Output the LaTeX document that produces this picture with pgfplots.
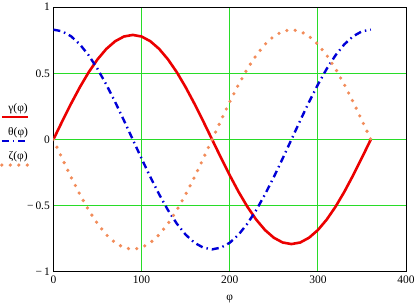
\documentclass[border=0pt]{standalone}
\usepackage{pgfplots}
\pgfplotsset{compat=1.18}
\usepackage{fontspec}
\setmainfont{Liberation Serif}
\definecolor{cred}{RGB}{235,0,0}
\definecolor{cblue}{RGB}{0,0,215}
\definecolor{corange}{RGB}{242,140,90}
\definecolor{cgrid}{RGB}{40,220,40}
\begin{document}
\begin{tikzpicture}
\begin{axis}[
  scale only axis,
  width=353pt, height=265pt,
  xmin=0, xmax=400, ymin=-1, ymax=1,
  xtick={0,100,200,300,400},
  ytick={-1,-0.5,0,0.5,1},
  yticklabels={−\,1,−\,0.5,0,0.5,1},
  /pgf/number format/assume math mode=true,
  tick label style={font=\fontsize{11.5}{13}\selectfont},
  major tick length=0pt,
  grid=major,
  major grid style={cgrid, line width=0.8pt},
  axis line style={black, line width=0.8pt},
  xlabel={φ},
  xlabel style={font=\fontsize{11.5}{13}\selectfont, yshift=-5pt},
  legend style={at={(axis description cs:-0.152,0.645)}, anchor=north west, draw=none, fill=none,
    font=\fontsize{11.5}{13}\selectfont, row sep=7pt, inner sep=0pt},
  legend cell align=left,
  legend image code/.code={\draw[#1] (0pt,-9pt) -- (26pt,-9pt);},
]
\addplot[cred, line width=2.6pt] coordinates {
(0,0)(10,0.137)(20,0.270)(30,0.395)(40,0.508)(50,0.605)(60,0.684)(70,0.742)(80,0.778)(90,0.790)(100,0.778)(110,0.742)(120,0.684)(130,0.605)(140,0.508)(150,0.395)(160,0.270)(170,0.137)(180,0)(190,-0.137)(200,-0.270)(210,-0.395)(220,-0.508)(230,-0.605)(240,-0.684)(250,-0.742)(260,-0.778)(270,-0.790)(280,-0.778)(290,-0.742)(300,-0.684)(310,-0.605)(320,-0.508)(330,-0.395)(340,-0.270)(350,-0.137)(360,0)
};
\addlegendentry{\hspace*{-24pt}γ(φ)}
\addplot[cblue, line width=2.4pt, dash pattern=on 7pt off 4pt on 1.5pt off 4pt] coordinates {
(0,0.830)(10,0.817)(20,0.780)(30,0.719)(40,0.636)(50,0.534)(60,0.415)(70,0.284)(80,0.144)(90,0)(100,-0.144)(110,-0.284)(120,-0.415)(130,-0.534)(140,-0.636)(150,-0.719)(160,-0.780)(170,-0.817)(180,-0.830)(190,-0.817)(200,-0.780)(210,-0.719)(220,-0.636)(230,-0.534)(240,-0.415)(250,-0.284)(260,-0.144)(270,0)(280,0.144)(290,0.284)(300,0.415)(310,0.534)(320,0.636)(330,0.719)(340,0.780)(350,0.817)(360,0.830)
};
\addlegendentry{\hspace*{-24pt}θ(φ)}
\addplot[corange, line width=3.6pt, line cap=round, dash pattern=on 0pt off 8.5pt] coordinates {
(0,0)(10,-0.144)(20,-0.284)(30,-0.415)(40,-0.534)(50,-0.636)(60,-0.719)(70,-0.780)(80,-0.817)(90,-0.830)(100,-0.817)(110,-0.780)(120,-0.719)(130,-0.636)(140,-0.534)(150,-0.415)(160,-0.284)(170,-0.144)(180,0)(190,0.144)(200,0.284)(210,0.415)(220,0.534)(230,0.636)(240,0.719)(250,0.780)(260,0.817)(270,0.830)(280,0.817)(290,0.780)(300,0.719)(310,0.636)(320,0.534)(330,0.415)(340,0.284)(350,0.144)(360,0)
};
\addlegendentry{\hspace*{-24pt}ζ(φ)}
\end{axis}
\end{tikzpicture}
\end{document}
